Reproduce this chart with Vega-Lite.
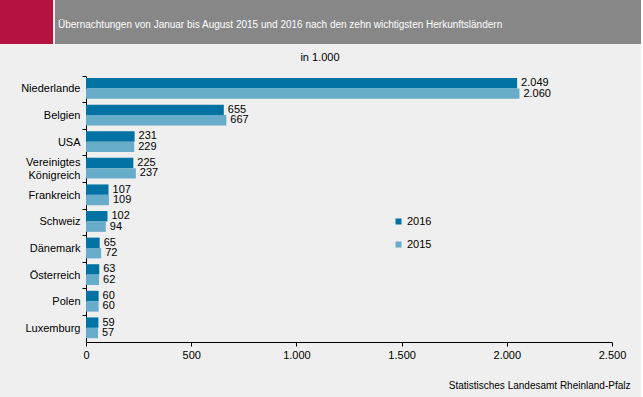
{
  "$schema": "https://vega.github.io/schema/vega-lite/v6.json",
  "background": "#eeefee",
  "padding": {"left": 0, "top": 0, "right": 0, "bottom": 8},
  "spacing": 7,
  "config": {
    "font": "Liberation Sans",
    "locale": {"number": {"decimal": ",", "thousands": ".", "grouping": [3], "currency": ["", " €"]}}
  },
  "vconcat": [
    {
      "spacing": 2,
      "hconcat": [
        {
          "width": 53, "height": 44,
          "view": {"fill": "#b5123f", "stroke": null},
          "data": {"values": [{"t": ""}]},
          "mark": {"type": "text"},
          "encoding": {"text": {"field": "t"}}
        },
        {
          "width": 586, "height": 44,
          "view": {"fill": "#878787", "stroke": null},
          "title": {
            "text": "Übernachtungen von Januar bis August 2015 und 2016 nach den zehn wichtigsten Herkunftsländern",
            "anchor": "start", "frame": "group", "orient": "top",
            "offset": -30, "dx": 3,
            "fontSize": 10, "fontWeight": "normal", "color": "#ffffff", "font": "Liberation Sans"
          },
          "data": {"values": [{"t": ""}]},
          "mark": {"type": "text"},
          "encoding": {"text": {"field": "t"}}
        }
      ]
    },
    {
      "width": 612,
      "height": 266,
      "view": {"stroke": null},
      "title": {
        "text": "in 1.000", "fontSize": 11, "fontWeight": "normal", "color": "#000000",
        "offset": 13, "dx": 14, "anchor": "middle"
      },
      "data": {"values": [
        {"land": "Niederlande", "jahr": "2016", "wert": 2049},
        {"land": "Niederlande", "jahr": "2015", "wert": 2060},
        {"land": "Belgien", "jahr": "2016", "wert": 655},
        {"land": "Belgien", "jahr": "2015", "wert": 667},
        {"land": "USA", "jahr": "2016", "wert": 231},
        {"land": "USA", "jahr": "2015", "wert": 229},
        {"land": "Vereinigtes Königreich", "jahr": "2016", "wert": 225},
        {"land": "Vereinigtes Königreich", "jahr": "2015", "wert": 237},
        {"land": "Frankreich", "jahr": "2016", "wert": 107},
        {"land": "Frankreich", "jahr": "2015", "wert": 109},
        {"land": "Schweiz", "jahr": "2016", "wert": 102},
        {"land": "Schweiz", "jahr": "2015", "wert": 94},
        {"land": "Dänemark", "jahr": "2016", "wert": 65},
        {"land": "Dänemark", "jahr": "2015", "wert": 72},
        {"land": "Österreich", "jahr": "2016", "wert": 63},
        {"land": "Österreich", "jahr": "2015", "wert": 62},
        {"land": "Polen", "jahr": "2016", "wert": 60},
        {"land": "Polen", "jahr": "2015", "wert": 60},
        {"land": "Luxemburg", "jahr": "2016", "wert": 59},
        {"land": "Luxemburg", "jahr": "2015", "wert": 57}
      ]},
      "encoding": {
        "y": {
          "field": "land", "type": "nominal", "sort": null,
          "scale": {"paddingInner": 0, "paddingOuter": 0},
          "axis": {
            "title": null, "bandPosition": 0, "domainColor": "#000000", "tickColor": "#000000",
            "offset": -86, "minExtent": 0, "maxExtent": 0,
            "tickSize": 4, "labelPadding": 2, "labelFontSize": 11, "labelColor": "#000000",
            "labelExpr": "datum.value == 'Vereinigtes Königreich' ? ['Vereinigtes', 'Königreich'] : datum.value",
            "labelLineHeight": 13,
            "labelOffset": {"condition": {"test": "datum.value == 'Vereinigtes Königreich'", "value": -6}, "value": 0}
          }
        },
        "yOffset": {
          "field": "jahr", "type": "nominal", "sort": ["2016", "2015"],
          "scale": {"paddingInner": 0, "paddingOuter": 0.28, "align": 0.35}
        },
        "x": {
          "field": "wert", "type": "quantitative",
          "scale": {"domain": [0, 2500], "nice": false, "range": [86, 612]},
          "axis": {
            "values": [0, 500, 1000, 1500, 2000, 2500], "format": ",d", "labelFlush": false,
            "grid": false, "domainColor": "#000000", "tickColor": "#000000", "tickSize": 4,
            "labelFontSize": 11, "labelColor": "#000000", "labelPadding": 3,
            "title": "Statistisches Landesamt Rheinland-Pfalz",
            "titleFontSize": 10, "titleFontWeight": "normal", "titleColor": "#000000",
            "titleAnchor": "end", "titleAlign": "right", "titleX": 630, "titleY": 38
          }
        }
      },
      "layer": [
        {
          "mark": {"type": "bar"},
          "encoding": {
            "color": {
              "field": "jahr", "type": "nominal", "sort": ["2016", "2015"],
              "scale": {"domain": ["2016", "2015"], "range": ["#0072a3", "#67adca"]},
              "legend": {
                "title": null, "orient": "none", "legendX": 393, "legendY": 216,
                "symbolType": "square", "symbolSize": 36, "symbolStrokeWidth": 0,
                "labelFontSize": 11, "labelColor": "#000000", "rowPadding": 11, "labelOffset": 3
              }
            }
          }
        },
        {
          "mark": {"type": "text", "align": "left", "baseline": "middle", "dx": 4, "fontSize": 11, "color": "#000000"},
          "encoding": {
            "text": {"field": "wert", "type": "quantitative", "format": ",d"}
          }
        }
      ]
    }
  ]
}
